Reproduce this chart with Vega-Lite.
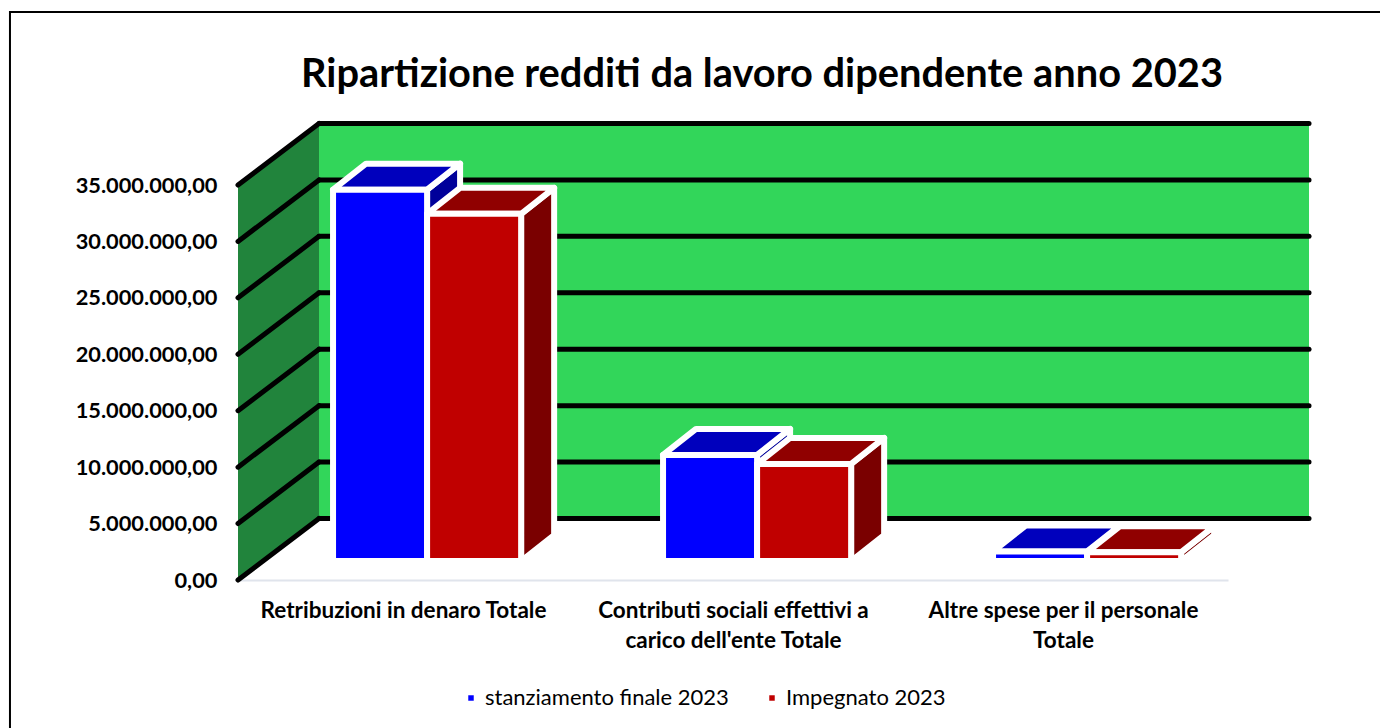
{
"$schema":"https://vega.github.io/schema/vega-lite/v6.json",
"autosize":{"type":"none"},
"width":990,"height":395,
"padding":{"left":238,"top":185,"right":152,"bottom":148},
"background":"white",
"view":{"stroke":null},
"config":{"font":"Lato","axis":{"title":null}},
"title":{"text":"Ripartizione redditi da lavoro dipendente anno 2023","font":"Lato","fontSize":39.8,"fontWeight":"bold","color":"#000000","anchor":"middle","frame":"group","dx":29,"baseline":"alphabetic","offset":-116},
"datasets":{
"barre":[
{"categoria":"Retribuzioni in denaro Totale","serie":"stanziamento finale 2023","valore":32900000},
{"categoria":"Retribuzioni in denaro Totale","serie":"Impegnato 2023","valore":30760000},
{"categoria":"Contributi sociali effettivi a carico dell'ente Totale","serie":"stanziamento finale 2023","valore":9400000},
{"categoria":"Contributi sociali effettivi a carico dell'ente Totale","serie":"Impegnato 2023","valore":8600000},
{"categoria":"Altre spese per il personale Totale","serie":"stanziamento finale 2023","valore":850000},
{"categoria":"Altre spese per il personale Totale","serie":"Impegnato 2023","valore":780000}
],
"griglia":[{"valore":0},{"valore":5000000},{"valore":10000000},{"valore":15000000},{"valore":20000000},{"valore":25000000},{"valore":30000000},{"valore":35000000}]
},
"layer":[
{"data":{"values":[{}]},"mark":{"type":"rect","fill":"transparent","stroke":"#000000","strokeWidth":2},
 "encoding":{"x":{"datum":-0.691,"type":"quantitative","scale":{"domain":[0,3],"nice":false,"zero":false},"axis":{"values":[0.5,1.5,2.5],"title":null,"grid":false,"ticks":false,"domainColor":"#e0e4ec","domainWidth":2,"labelFont":"Lato","labelFontWeight":"bold","labelFontSize":22.5,"labelColor":"#000000","labelPadding":19,"labelLineHeight":30,"labelLimit":400,"labelExpr":"[['Retribuzioni in denaro Totale'],['Contributi sociali effettivi a',\"carico dell'ente Totale\"],['Altre spese per il personale','Totale']][floor(datum.value)]"}},
 "x2":{"datum":3.5},
 "y":{"datum":50330000,"type":"quantitative","scale":{"domain":[0,35000000],"nice":false,"zero":false},"axis":{"values":[0,5000000,10000000,15000000,20000000,25000000,30000000,35000000],"title":null,"grid":false,"ticks":false,"domain":false,"labelFont":"Lato","labelFontWeight":"bold","labelFontSize":21.8,"labelColor":"#000000","labelPadding":21,"labelLimit":300,"labelExpr":"replace(format(datum.value,',.0f'),/,/g,'.')+',00'"}},
 "y2":{"datum":-14000000}}},
{"data":{"values":[{}]},"mark":{"type":"rect","fill":"#32d65a"},
 "encoding":{"x":{"datum":0.2455,"type":"quantitative"},"x2":{"datum":3.2455},"y":{"datum":5450000,"type":"quantitative"},"y2":{"datum":40450000}}},
{"data":{"name":"griglia"},
 "transform":[{"filter":"datum.valore==0"},{"calculate":"[0,1]","as":"k"},{"flatten":["k"]},{"calculate":"datum.k*0.2455","as":"xp"},{"calculate":"datum.k*5450000","as":"y0"},{"calculate":"datum.y0+35000000","as":"y1"}],
 "mark":{"type":"area","fill":"#21843c","interpolate":"linear"},
 "encoding":{"x":{"field":"xp","type":"quantitative"},"y":{"field":"y0","type":"quantitative"},"y2":{"field":"y1"}}},
{"data":{"name":"griglia"},
 "transform":[{"calculate":"datum.valore+5450000","as":"yb"},{"calculate":"0.2455","as":"xa"},{"calculate":"3.2455","as":"xb"}],
 "mark":{"type":"rule","stroke":"#000000","strokeWidth":5,"strokeCap":"round"},
  "encoding":{"x":{"field":"xa","type":"quantitative"},"x2":{"field":"xb"},"y":{"field":"yb","type":"quantitative"}}},
{"data":{"name":"griglia"},
 "transform":[{"calculate":"datum.valore+5450000","as":"yb"},{"calculate":"0.2455","as":"xa"},{"calculate":"0","as":"xf"}],"mark":{"type":"rule","stroke":"#000000","strokeWidth":5,"strokeCap":"round"},
  "encoding":{"x":{"field":"xf","type":"quantitative"},"x2":{"field":"xa"},"y":{"field":"valore","type":"quantitative"},"y2":{"field":"yb"}}},
{"data":{"name":"barre"},
 "transform":[
 {"calculate":"indexof(['Retribuzioni in denaro Totale',\"Contributi sociali effettivi a carico dell'ente Totale\",'Altre spese per il personale Totale'],datum.categoria)","as":"i"},
 {"calculate":"datum.serie=='Impegnato 2023'?1:0","as":"s"},
 {"calculate":"datum.i+0.288+datum.s*0.285","as":"x0"},
 {"calculate":"datum.x0+0.285","as":"x1"},
 {"calculate":"1684000","as":"base"},
 {"calculate":"datum.valore+datum.base","as":"cima"},
 {"calculate":"[0,1,2,3]","as":"v"},
 {"flatten":["v"]},
 {"calculate":"[datum.x0,datum.x1,datum.x1+0.1,datum.x0+0.1][datum.v]","as":"xTop"},
 {"calculate":"[datum.cima,datum.cima,datum.cima+2305000,datum.cima+2305000][datum.v]","as":"yTop"},
 {"calculate":"[datum.x1,datum.x1,datum.x1+0.1,datum.x1+0.1][datum.v]","as":"xSide"},
 {"calculate":"[datum.base,datum.cima,datum.cima+2305000,datum.base+2305000][datum.v]","as":"ySide"}
 ],
 "layer":[
 {"transform":[{"filter":"datum.s==0"}],"mark":{"type":"line","interpolate":"linear-closed","fill":"#00009a","stroke":"#ffffff","strokeWidth":6,"strokeJoin":"round"},
  "encoding":{"x":{"field":"xSide","type":"quantitative"},"y":{"field":"ySide","type":"quantitative"},"order":{"field":"v"},"detail":{"field":"categoria"}}},
 {"transform":[{"filter":"datum.s==0"}],"mark":{"type":"line","interpolate":"linear-closed","fill":"#0000bd","stroke":"#ffffff","strokeWidth":6,"strokeJoin":"round"},
  "encoding":{"x":{"field":"xTop","type":"quantitative"},"y":{"field":"yTop","type":"quantitative"},"order":{"field":"v"},"detail":{"field":"categoria"}}},
 {"transform":[{"filter":"datum.s==0 && datum.v==0"}],"mark":{"type":"rect","stroke":"#ffffff","strokeWidth":6,"strokeJoin":"round"},
  "encoding":{"x":{"field":"x0","type":"quantitative"},"x2":{"field":"x1"},"y":{"field":"cima","type":"quantitative"},"y2":{"field":"base"},
  "color":{"field":"serie","type":"nominal","scale":{"domain":["stanziamento finale 2023","Impegnato 2023"],"range":["#0000ff","#c00000"]},
   "legend":{"orient":"none","legendX":222,"legendY":502,"direction":"horizontal","title":null,"symbolType":"square","symbolSize":30,"symbolStrokeWidth":0,"labelFont":"Lato","labelFontSize":22,"labelColor":"#000000","labelOffset":3,"columnPadding":32,"labelLimit":400}}}},
 {"transform":[{"filter":"datum.s==1"}],"mark":{"type":"line","interpolate":"linear-closed","fill":"#7a0000","stroke":"#ffffff","strokeWidth":6,"strokeJoin":"round"},
  "encoding":{"x":{"field":"xSide","type":"quantitative"},"y":{"field":"ySide","type":"quantitative"},"order":{"field":"v"},"detail":{"field":"categoria"}}},
 {"transform":[{"filter":"datum.s==1"}],"mark":{"type":"line","interpolate":"linear-closed","fill":"#900000","stroke":"#ffffff","strokeWidth":6,"strokeJoin":"round"},
  "encoding":{"x":{"field":"xTop","type":"quantitative"},"y":{"field":"yTop","type":"quantitative"},"order":{"field":"v"},"detail":{"field":"categoria"}}},
 {"transform":[{"filter":"datum.s==1 && datum.v==0"}],"mark":{"type":"rect","stroke":"#ffffff","strokeWidth":6,"strokeJoin":"round"},
  "encoding":{"x":{"field":"x0","type":"quantitative"},"x2":{"field":"x1"},"y":{"field":"cima","type":"quantitative"},"y2":{"field":"base"},
  "color":{"field":"serie","type":"nominal"}}}
 ]}
]
}
